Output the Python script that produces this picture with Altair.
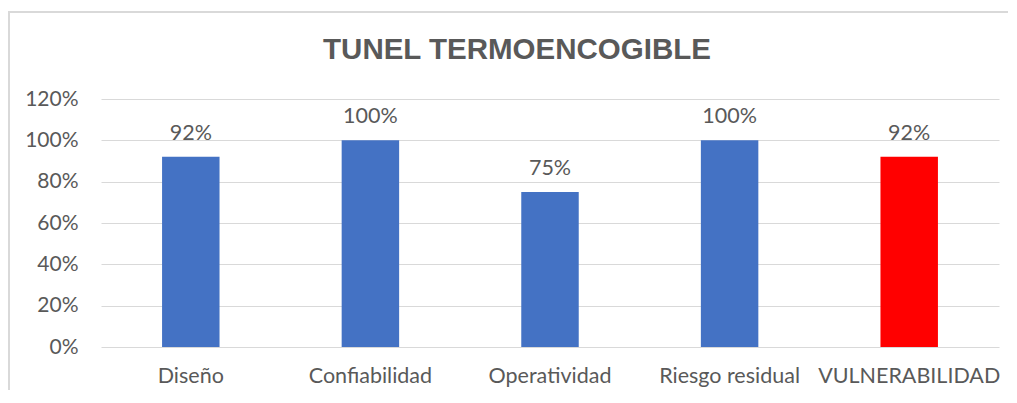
import altair as alt
import pandas as pd

categories = ["Diseño", "Confiabilidad", "Operatividad", "Riesgo residual", "VULNERABILIDAD"]
values = [0.92, 1.00, 0.75, 1.00, 0.92]
colors = ["#4472C4", "#4472C4", "#4472C4", "#4472C4", "#FF0000"]
y_ticks = [0, 0.2, 0.4, 0.6, 0.8, 1.0, 1.2]
title_text = "TUNEL TERMOENCOGIBLE"

df = pd.DataFrame({"cat": categories, "val": values, "color": colors})

FONT = "Lato"
TXT = "#595959"
FRAME = "#d9d9d9"

x = alt.X("cat:N", sort=categories, title=None,
          scale=alt.Scale(paddingInner=0.68, paddingOuter=0.34),
          axis=alt.Axis(labelAngle=0, labelFontSize=21.5, labelColor=TXT, labelFont=FONT,
                        ticks=False, domain=False, labelPadding=18, labelLimit=0))
y = alt.Y("val:Q", title=None,
          scale=alt.Scale(domain=[0, 1.2], nice=False),
          axis=alt.Axis(values=y_ticks, format=".0%", labelFontSize=21, labelColor=TXT,
                        labelFont=FONT, ticks=False, domain=False, labelPadding=23,
                        gridColor=FRAME, gridWidth=1.2))

frame_top = alt.Chart(df).mark_rule(stroke=FRAME, strokeWidth=1.5).encode(
    x=alt.value(-93), x2=alt.value(907), y=alt.value(-87), y2=alt.value(-87)
)
frame_left = alt.Chart(df).mark_rule(stroke=FRAME, strokeWidth=1.5).encode(
    x=alt.value(-92), x2=alt.value(-92), y=alt.value(-87), y2=alt.value(296)
)

title = alt.Chart(pd.DataFrame({"t": [title_text]})).mark_text(
    fontSize=29.5, font="Liberation Sans", fontWeight="bold", color=TXT,
    baseline="alphabetic", align="center"
).encode(x=alt.value(416), y=alt.value(-40.5), text="t:N")

bars = alt.Chart(df).mark_bar().encode(
    x=x, y=y, color=alt.Color("color:N", scale=None)
)

labels = alt.Chart(df).mark_text(baseline="alphabetic", dy=-17, fontSize=21.5,
                                 color=TXT, font=FONT).encode(
    x=alt.X("cat:N", sort=categories),
    y="val:Q",
    text=alt.Text("val:Q", format=".0%"),
)

chart = alt.layer(frame_top, frame_left, title, bars, labels).properties(
    width=898, height=248,
    autosize=alt.AutoSizeParams(type="none"),
    padding={"left": 93, "top": 91, "right": 10, "bottom": 43},
).configure_view(stroke=None)

chart.save("out.html", embed_options={"renderer": "svg", "actions": False})
